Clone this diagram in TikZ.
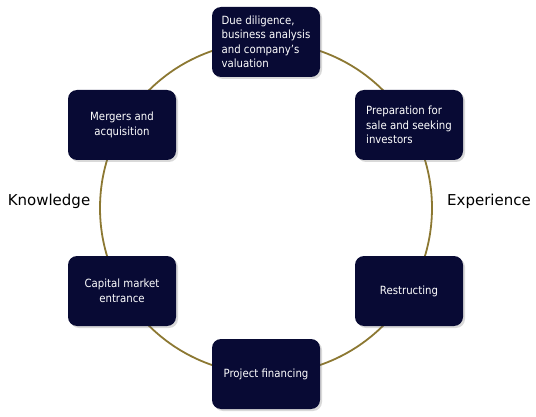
\documentclass[tikz,border=0pt]{standalone}
\definecolor{darknavy}{RGB}{8,10,52}
\definecolor{ringgold}{RGB}{140,120,50}
\usepackage{fontspec}
\setmainfont{DejaVu Sans Condensed}
\newfontfamily\labelfont{DejaVu Sans}
\usepackage{tikz}
\usetikzlibrary{shapes,positioning,calc,shadows}

\tikzset{
    stagebox/.style={rectangle, rounded corners=9pt, fill=darknavy, text=white,
        minimum width=108pt, minimum height=70pt, font=\fontsize{11.3}{14.5}\selectfont,
        drop shadow={shadow xshift=2pt, shadow yshift=-2pt, opacity=0.25, fill=black!60}},
    sidelabel/.style={font=\labelfont\fontsize{15}{17}\selectfont, text=black}
}

\begin{document}
\begin{tikzpicture}[x=1pt, y=-1pt]
            \useasboundingbox (0,0) rectangle (536,417);
            \coordinate (centre) at (266,208);
            % ring behind the boxes
            \draw[ringgold, line width=1.8pt] (centre) circle[radius=166pt];

            \node[stagebox, align=left] (duediligence) at (266,42) {Due diligence,\\business analysis\\and company's\\valuation};
            \node[stagebox, align=left] (preparation) at (409,125) {Preparation for\\sale and seeking\\investors};
            \node[stagebox] (restructing) at (409,291) {Restructing};
            \node[stagebox] (financing) at (266,374) {Project financing};
            \node[stagebox, align=center] (capital) at (122,291) {Capital market\\entrance};
            \node[stagebox, align=center] (mergers) at (122,125) {Mergers and\\acquisition};

            \node[sidelabel] (knowledge) at (49,201) {Knowledge};
            \node[sidelabel] (experience) at (489,201) {Experience};
        \end{tikzpicture}
\end{document}
